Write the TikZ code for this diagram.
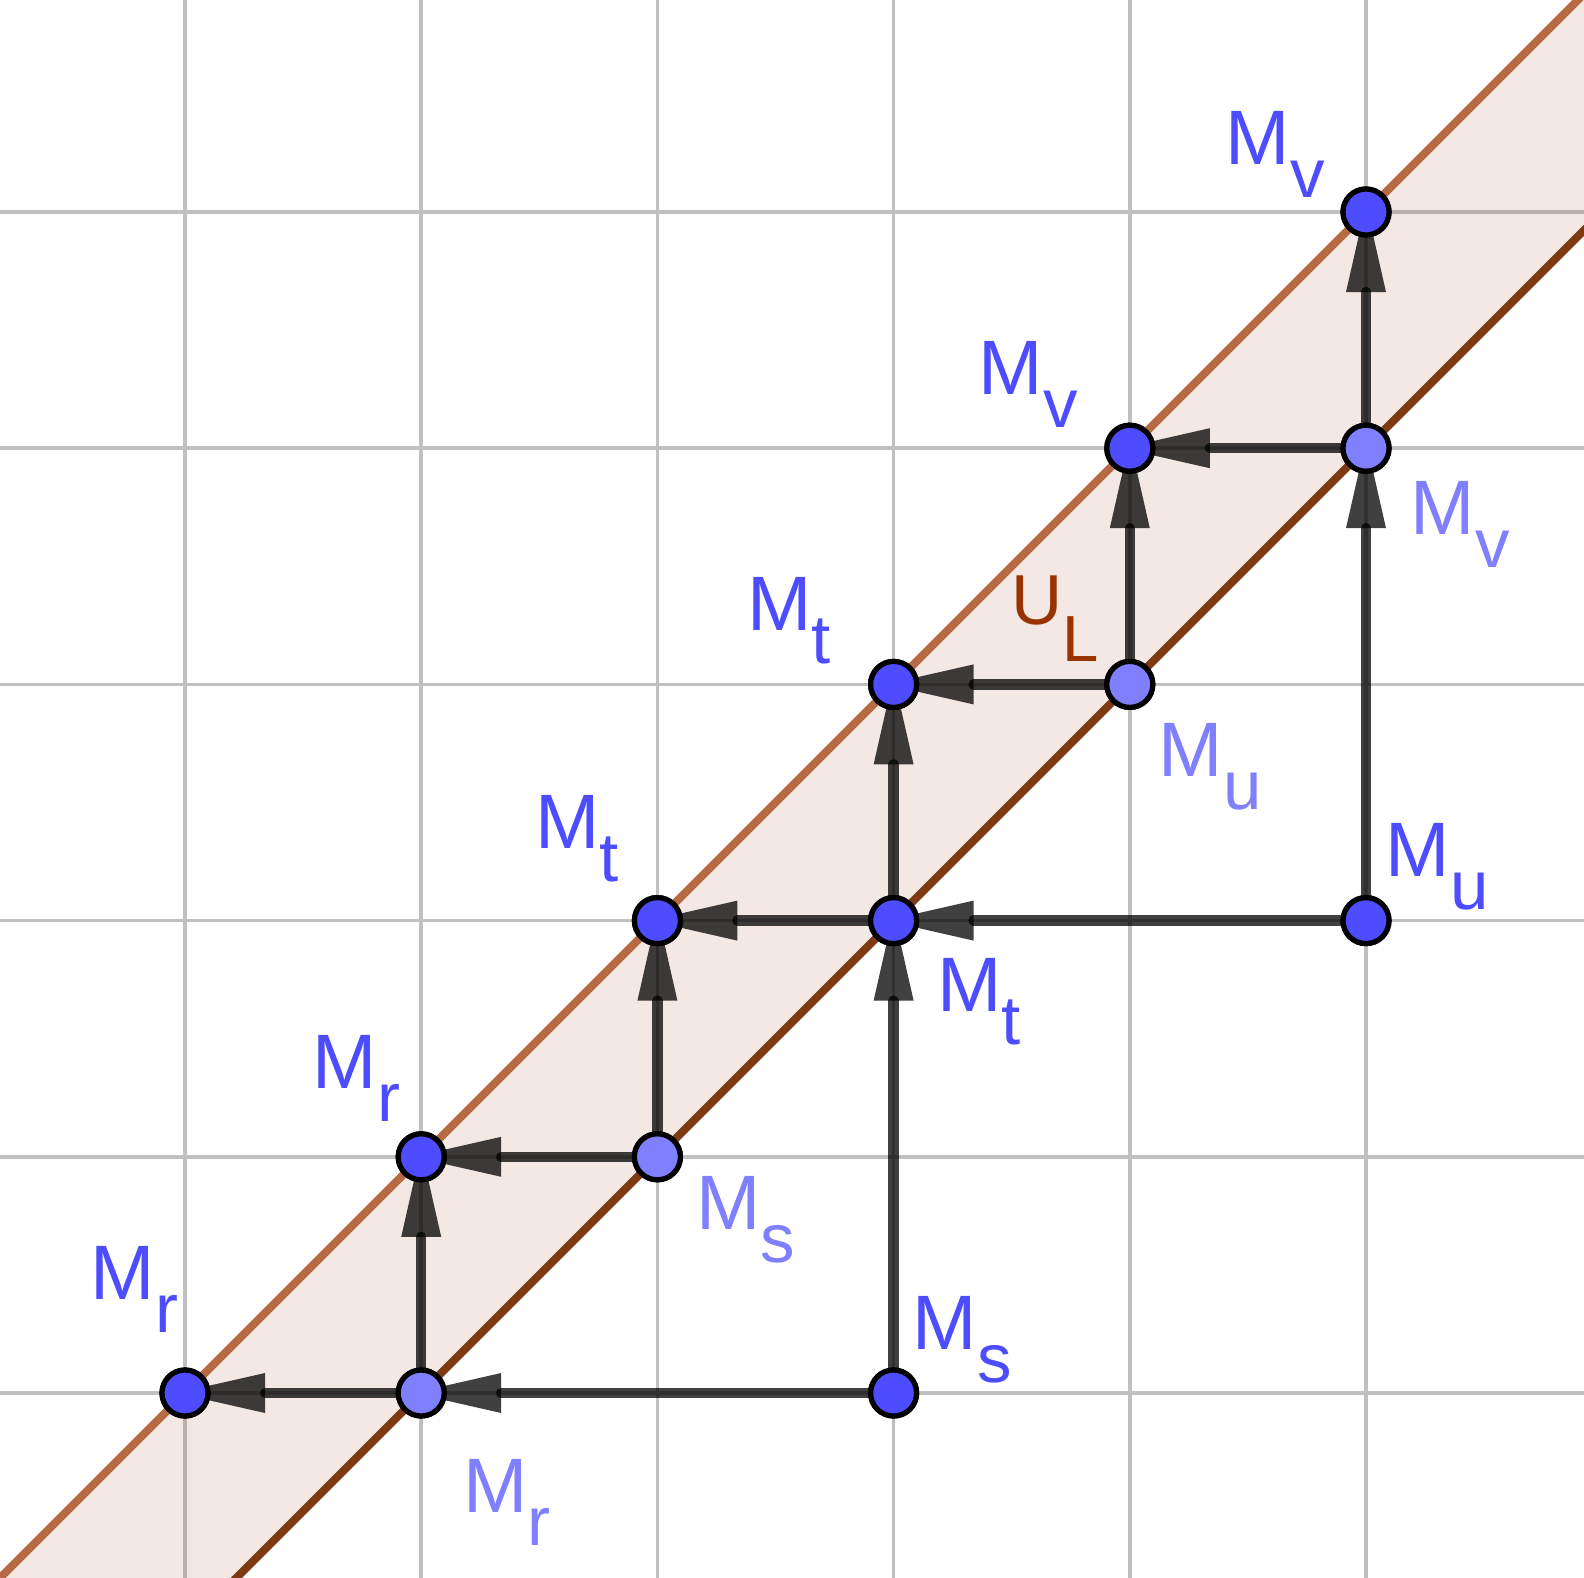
\documentclass[tikz,border=0pt]{standalone}
\usepackage{fontspec}
\setmainfont{Liberation Sans}
\usetikzlibrary{calc}
\definecolor{darkpt}{HTML}{4D4DFF}
\definecolor{lightpt}{HTML}{8080FF}
\definecolor{brownU}{HTML}{993300}
\definecolor{upline}{HTML}{B86A45}
\definecolor{lowline}{HTML}{7E3A15}
\definecolor{gridc}{HTML}{C0C0C0}
\newcommand\Mlab[2]{\fontsize{38.6pt}{38.6pt}\selectfont #1\raisebox{-16.5pt}{\fontsize{34.5pt}{34.5pt}\selectfont #2}}
\newcommand\vecarrow[2]{%
  \draw[shaft] (#1.center) -- ($(#2.center)!40pt!(#1.center)$);
  \fill[headst] ($(#2.center)!-4pt!(#1.center)$) -- ($(#2.center)!40pt!(#1.center)!10pt!90:(#2.center)$) -- ($(#2.center)!40pt!(#1.center)!10pt!-90:(#2.center)$) -- cycle;}
\tikzset{
  gridline/.style={draw=gridc, line width=1.75pt},
  shaft/.style={draw=black, draw opacity=0.75, line width=5.25pt, line cap=round},
  headst/.style={fill=black, fill opacity=0.75},
  ptdark/.style={circle, draw=black, line width=2.6pt, fill=darkpt, minimum size=23pt, inner sep=0pt},
  ptlight/.style={ptdark, fill=lightpt},
  labdark/.style={anchor=base west, inner sep=0pt, text=darkpt},
  lablight/.style={anchor=base west, inner sep=0pt, text=lightpt},
}
\begin{document}
\begin{tikzpicture}[x=0.5pt, y=-0.5pt]
\useasboundingbox (0,0) rectangle (1584,1578);
\fill[white] (0,0) rectangle (1584,1578);
% grid
\foreach \gx in {185,421.2,657.4,893.6,1129.8,1366}
  \draw[gridline] (\gx,0) -- (\gx,1578);
\foreach \gy in {212,448.2,684.4,920.6,1156.8,1393}
  \draw[gridline] (0,\gy) -- (1584,\gy);
% band
\begin{scope}
\clip (0,0) rectangle (1584,1578);
\fill[brownU, fill opacity=0.11] (-200,1778) -- (1778,-200) -- (2014.2,-200) -- (-200,2014.2) -- cycle;
\draw[upline, line width=4pt] (-200,1778) -- (1778,-200);
\draw[lowline, line width=4pt] (-200,2014.2) -- (2014.2,-200);
\end{scope}
% points
\node[ptdark]  (r1) at (185,1393) {};
\node[ptlight] (r2) at (421.2,1393) {};
\node[ptdark]  (s1) at (893.6,1393) {};
\node[ptdark]  (r3) at (421.2,1156.8) {};
\node[ptlight] (s2) at (657.4,1156.8) {};
\node[ptdark]  (t1) at (657.4,920.6) {};
\node[ptdark]  (t2) at (893.6,920.6) {};
\node[ptdark]  (u1) at (1366,920.6) {};
\node[ptdark]  (t3) at (893.6,684.4) {};
\node[ptlight] (u2) at (1129.8,684.4) {};
\node[ptdark]  (v1) at (1129.8,448.2) {};
\node[ptlight] (v2) at (1366,448.2) {};
\node[ptdark]  (v3) at (1366,212) {};
% arrows
\vecarrow{r2}{r1}
\vecarrow{s1}{r2}
\vecarrow{r2}{r3}
\vecarrow{s2}{r3}
\vecarrow{s2}{t1}
\vecarrow{t2}{t1}
\vecarrow{s1}{t2}
\vecarrow{u1}{t2}
\vecarrow{t2}{t3}
\vecarrow{u2}{t3}
\vecarrow{u2}{v1}
\vecarrow{v2}{v1}
\vecarrow{u1}{v2}
\vecarrow{v2}{v3}
% redraw points on top
\foreach \p/\s in {r1/ptdark,r2/ptlight,s1/ptdark,r3/ptdark,s2/ptlight,t1/ptdark,t2/ptdark,u1/ptdark,t3/ptdark,u2/ptlight,v1/ptdark,v2/ptlight,v3/ptdark}
  \node[\s] at (\p) {};
% labels
\node[labdark]  (lr1) at (90.4,1299) {\Mlab{M}{r}};
\node[lablight] (lr2) at (462.7,1512.7) {\Mlab{M}{r}};
\node[labdark]  (lr3) at (312.4,1088) {\Mlab{M}{r}};
\node[lablight] (ls2) at (696.1,1229.3) {\Mlab{M}{s}};
\node[labdark]  (ls1) at (912.4,1349.5) {\Mlab{M}{s}};
\node[labdark]  (lt1) at (534.9,848.5) {\Mlab{M}{t}};
\node[labdark]  (lt2) at (937.1,1011.7) {\Mlab{M}{t}};
\node[labdark]  (lt3) at (747,630) {\Mlab{M}{t}};
\node[lablight] (lu2) at (1158.4,776) {\Mlab{M}{u}};
\node[labdark]  (lu1) at (1385.4,876) {\Mlab{M}{u}};
\node[labdark]  (lv1) at (978.4,394) {\Mlab{M}{v}};
\node[lablight] (lv2) at (1410.4,534) {\Mlab{M}{v}};
\node[labdark]  (lv3) at (1225.4,165) {\Mlab{M}{v}};
\node[anchor=base west, inner sep=0pt, text=brownU] (ul) at (1011.2,624) {\fontsize{35.4pt}{35.4pt}\selectfont U\raisebox{-18.5pt}{\fontsize{32.6pt}{32.6pt}\selectfont L}};
\end{tikzpicture}
\end{document}
